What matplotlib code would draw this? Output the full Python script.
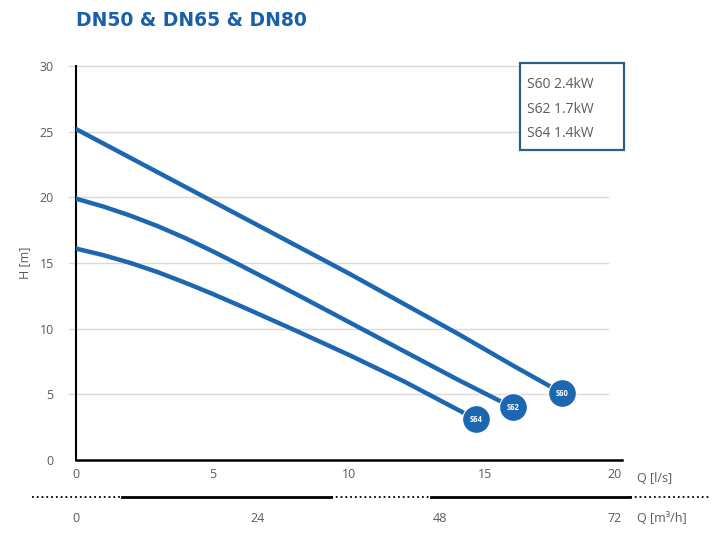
import matplotlib
matplotlib.use("Agg")
import matplotlib.pyplot as plt
from matplotlib.lines import Line2D
from matplotlib.patches import Rectangle

# pump curves, Q in l/s, H in m
q_s60 = [0, 2, 4, 6, 8, 10, 12, 14, 16, 17.8]
h_s60 = [25.2, 23.0, 20.8, 18.6, 16.4, 14.2, 11.9, 9.6, 7.2, 5.1]
q_s62 = [0, 1, 2, 3, 4, 5, 6, 8, 10, 12, 14, 16.0]
h_s62 = [19.9, 19.3, 18.6, 17.8, 16.9, 15.9, 14.85, 12.7, 10.5, 8.3, 6.1, 4.0]
q_s64 = [0, 1, 2, 3, 4, 5, 6, 8, 10, 12, 14.65]
h_s64 = [16.1, 15.6, 15.0, 14.3, 13.5, 12.65, 11.75, 9.9, 8.0, 6.0, 3.1]

curves = [("S60", q_s60, h_s60), ("S62", q_s62, h_s62), ("S64", q_s64, h_s64)]
legend_lines = ["S60 2.4kW", "S62 1.7kW", "S64 1.4kW"]

ls_ticks = [0, 5, 10, 15, 20]
m3h_ticks = [0, 24, 48, 72]
h_ticks = [0, 5, 10, 15, 20, 25, 30]

blue = "#1d67b0"
grey = "#5a5a5a"
plt.rcParams['font.family'] = ['Open Sans', 'DejaVu Sans']

fig = plt.figure(figsize=(7.2, 5.37), dpi=100)
ax = fig.add_axes([76 / 720, 77 / 537, 546 / 720, 394 / 537])
ax.set_xlim(0, 20)
ax.set_ylim(0, 30)

# grid lines
for h in h_ticks[1:]:
    ax.plot([-0.25, 19.5], [h, h], color="#dadada", lw=1.0, clip_on=False, zorder=0)

for name, q, h in curves:
    ax.plot(q, h, color=blue, lw=3.2, solid_capstyle="round", solid_joinstyle="round", zorder=3)
    ax.plot(q[-1], h[-1], "o", ms=20, color=blue, mec="white", mew=0.8, zorder=4)
    ax.text(q[-1], h[-1], name, color="white", fontsize=5.5, fontweight="bold",
            ha="center", va="center", zorder=5)

for side in ["top", "right"]:
    ax.spines[side].set_visible(False)
ax.spines["left"].set_linewidth(1.5)
ax.spines["bottom"].set_linewidth(1.8)

ax.set_yticks(h_ticks)
ax.tick_params(axis="y", length=0, pad=16, labelsize=9, labelcolor=grey)
ax.set_xticks(ls_ticks)
ax.set_xticklabels([str(t) for t in ls_ticks])
ax.tick_params(axis="x", length=0, pad=6, labelsize=9, labelcolor=grey)
for lbl, ha in zip(ax.get_xticklabels(), ["center"] * 4 + ["right"]):
    lbl.set_ha(ha)

sec = ax.secondary_xaxis(-0.118, functions=(lambda x: x * 3.6, lambda x: x / 3.6))
sec.set_xticks(m3h_ticks)
sec.tick_params(length=0, pad=4, labelsize=9, labelcolor=grey)
sec.spines["bottom"].set_visible(False)
for lbl, ha in zip(sec.get_xticklabels(), ["center"] * 3 + ["right"]):
    lbl.set_ha(ha)

ax.set_ylabel("H [m]", fontsize=9, color=grey, labelpad=6)

fig.text(637 / 720, 1 - 478 / 537, "Q [l/s]", fontsize=9, color=grey, va="center")
fig.text(637 / 720, 1 - 519 / 537, "Q [m³/h]", fontsize=9, color=grey, va="center")

# separator between the two flow scales
y_sep = 1 - 497 / 537
segs = [(32, 122, ":"), (122, 331, "-"), (331, 431, ":"), (431, 630, "-"), (630, 711, ":")]
for x0, x1, style in segs:
    fig.add_artist(Line2D([x0 / 720, x1 / 720], [y_sep, y_sep], color="black",
                          lw=2.0 if style == "-" else 1.3, ls=style))

# legend box
ax.add_patch(Rectangle((0.813, 0.787), 0.191, 0.221, transform=ax.transAxes, fc="white",
                       ec="#2a5f8a", lw=1.6, clip_on=False, zorder=6))
for i, line in enumerate(legend_lines):
    ax.text(0.826, 0.952 - i * 0.062, line, transform=ax.transAxes, fontsize=10,
            color=grey, va="center", ha="left", zorder=7)

fig.text(76 / 720, 1 - 20 / 537, "DN50 & DN65 & DN80", fontsize=13.5, fontweight="bold",
         color="#1a60a8", va="center", ha="left", family="DejaVu Sans")

fig.savefig("out.png", dpi=100)
